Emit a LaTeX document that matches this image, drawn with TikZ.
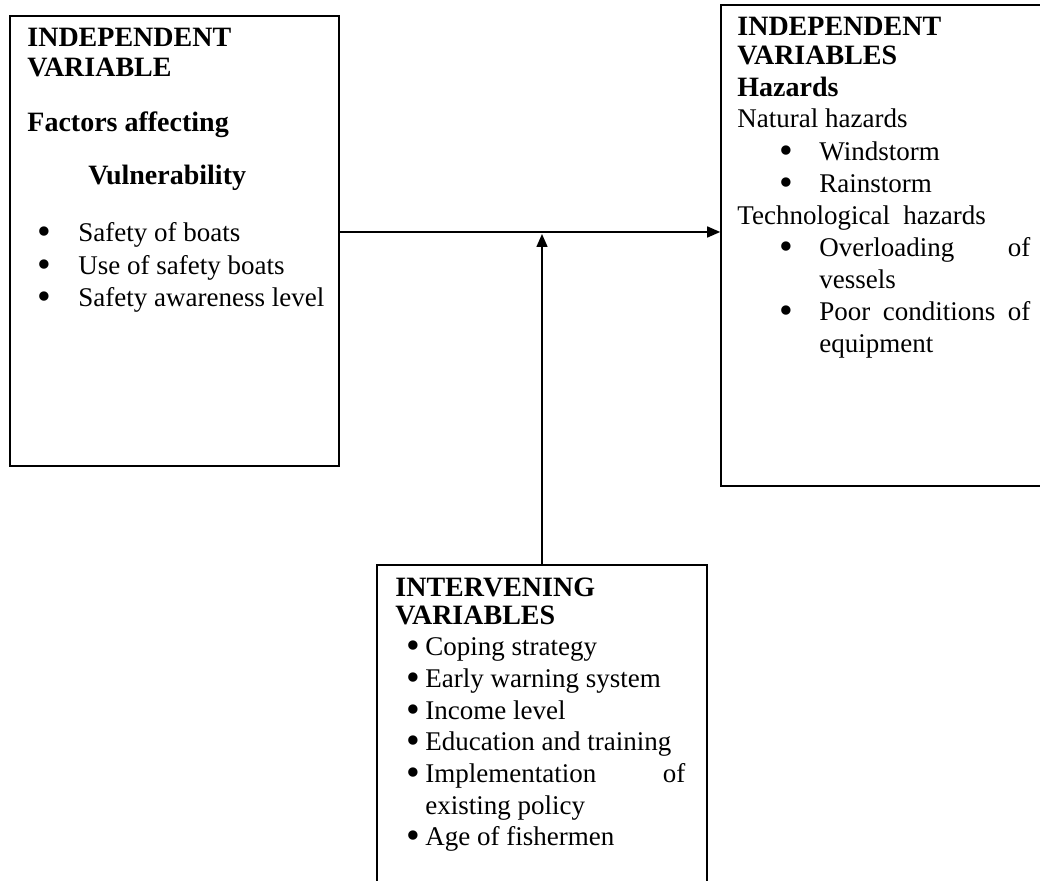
\documentclass[tikz,border=0pt]{standalone}
\usepackage{fontspec}
\usepackage{graphicx}
\setmainfont{Liberation Serif}
\usetikzlibrary{arrows.meta}

\tikzset{
    box/.style={draw, line width=0.8pt, inner sep=0pt},
    hd/.style={anchor=base west, inner sep=0pt, font=\fontsize{14}{16}\selectfont\bfseries},
    txt/.style={anchor=base west, inner sep=0pt, font=\fontsize{13.5}{16}\selectfont},
    link/.style={line width=0.75pt, -{Triangle[length=6.5pt,width=5.5pt]}}
}
\newcommand{\bul}[1]{\makebox[#1][l]{\smash{\raisebox{-0.1em}{\scalebox{1.45}{\textbullet}}}}}

\begin{document}
\begin{tikzpicture}[x=0.5pt,y=-0.5pt]
    \useasboundingbox (0,0) rectangle (1040,881);
    % boxes
    \node[box, minimum width=164.5pt, minimum height=225pt] (lbox) at (174.5,241) {};
    \node[box, minimum width=165pt, minimum height=240.5pt] (rbox) at (886,245.5) {};
    \node[box, minimum width=165pt, minimum height=170pt] (ibox) at (542,735) {};
    % left box
    \node[hd] (l1) at (27,47) {INDEPENDENT};
    \node[hd] (l2) at (27,77) {VARIABLE};
    \node[hd] (l3) at (27,132) {Factors affecting};
    \node[hd] (l4) at (88,185) {Vulnerability};
    \node[txt] (l5) at (37,242) {\bul{20.5pt}Safety of boats};
    \node[txt] (l6) at (37,275) {\bul{20.5pt}Use of safety boats};
    \node[txt] (l7) at (37,307) {\bul{20.5pt}Safety awareness level};
    % right box
    \node[hd] (r1) at (737,36) {INDEPENDENT};
    \node[hd] (r2) at (737,65) {VARIABLES};
    \node[hd] (r3) at (737,97) {Hazards};
    \node[txt] (r4) at (737,128) {Natural hazards};
    \node[txt] (r5) at (779,161) {\bul{20pt}Windstorm};
    \node[txt] (r6) at (779,193) {\bul{20pt}Rainstorm};
    \node[txt] (r7) at (737,225) {Technological\ \ hazards};
    \node[txt] (r8) at (779,257) {\bul{20pt}\makebox[105.5pt][s]{Overloading of}};
    \node[txt] (r9) at (819,289) {vessels};
    \node[txt] (r10) at (779,321) {\bul{20pt}\makebox[105.5pt][s]{Poor conditions of}};
    \node[txt] (r11) at (819,353) {equipment};
    % bottom box
    \node[hd] (i1) at (395,597) {INTERVENING};
    \node[hd] (i2) at (395,625) {VARIABLES};
    \node[txt] (i3) at (406,656) {\bul{9.5pt}Coping strategy};
    \node[txt] (i4) at (406,688) {\bul{9.5pt}Early warning system};
    \node[txt] (i5) at (406,720) {\bul{9.5pt}Income level};
    \node[txt] (i6) at (406,751) {\bul{9.5pt}Education and training};
    \node[txt] (i7) at (406,783) {\bul{9.5pt}\makebox[130pt][s]{Implementation of}};
    \node[txt] (i8) at (425,815) {existing policy};
    \node[txt] (i9) at (406,846) {\bul{9.5pt}Age of fishermen};
    % arrows
    \coordinate (jn) at (542,232);
    \draw[link] (lbox.east |- jn) -- (rbox.west |- jn);
    \draw[link] (ibox.north) -- ([yshift=-1pt]jn);
\end{tikzpicture}
\end{document}
